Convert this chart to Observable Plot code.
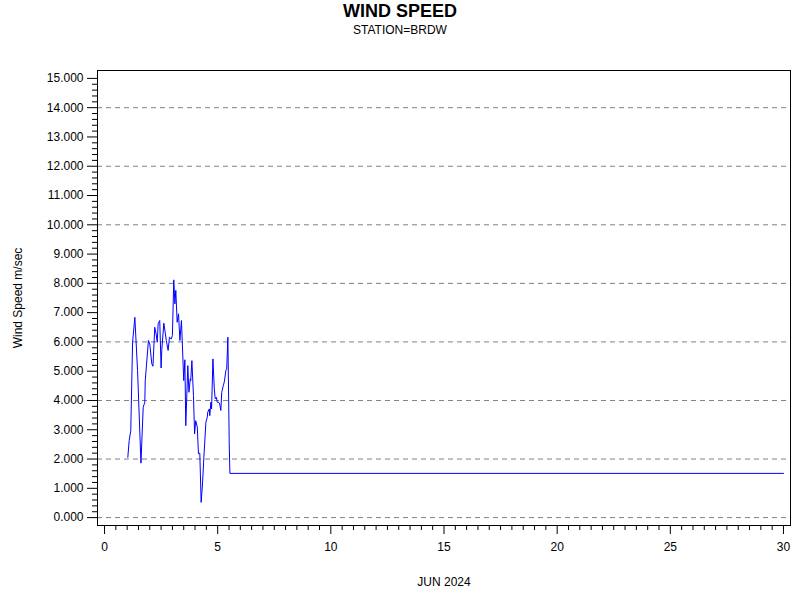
<!DOCTYPE html>
<html><head><meta charset="utf-8">
<script src="https://cdn.jsdelivr.net/npm/d3@7"></script>
<script src="https://cdn.jsdelivr.net/npm/@observablehq/plot@0.6"></script>
<style>
body{margin:0;background:#fff;font-family:"Liberation Sans",Arial,sans-serif;}
#head{height:40px;width:800px;position:relative;}
#t{position:absolute;top:0;width:800px;text-align:center;font-weight:bold;font-size:18px;line-height:22px;}
#s{position:absolute;top:22px;width:800px;text-align:center;font-size:12px;line-height:16px;}
</style></head><body>
<div id="head"><div id="t">WIND SPEED</div><div id="s">STATION=BRDW</div></div>
<div id="chart"></div>
<script>
const days = [1.03,1.09,1.16,1.24,1.34,1.46,1.61,1.71,1.78,1.80,1.94,2.00,2.09,2.14,2.22,2.28,2.33,2.37,2.44,2.50,2.53,2.62,2.68,2.73,2.81,2.87,2.95,3.00,3.06,3.11,3.15,3.21,3.27,3.33,3.40,3.50,3.55,3.59,3.68,3.73,3.79,3.81,3.86,3.93,3.98,4.03,4.10,4.15,4.21,4.27,4.33,4.39,4.48,4.54,4.56,4.63,4.65,4.70,4.73,4.79,4.85,4.89,4.94,4.98,5.04,5.09,5.14,5.18,5.25,5.30,5.36,5.40,5.45,5.51,5.54,30];
const speeds = [2.06,2.63,2.97,5.99,6.84,5.02,1.86,3.77,3.94,4.68,6.05,5.93,5.25,5.17,6.50,6.27,5.99,6.62,6.73,5.11,5.71,6.64,6.33,6.05,5.71,6.16,6.10,6.22,8.12,7.30,7.76,6.67,6.96,6.05,6.73,4.68,5.39,3.14,5.19,4.28,4.74,4.68,5.36,4.17,2.86,3.31,3.09,2.18,2.20,0.52,1.15,2.06,3.26,3.43,3.60,3.71,3.48,3.94,3.71,5.42,4.40,4.06,4.11,3.94,3.94,3.88,3.66,4.28,4.51,4.66,5.02,5.08,6.16,2.52,1.51,1.51];
const xMajor = [0,5,10,15,20,25,30];
const yMajor = d3.range(0,16);
const yGrid = [0,2,4,6,8,10,12,14];
const xLabel = "JUN 2024";
const yLabel = "Wind Speed m/sec";

const data = days.map((d,i)=>({day:d, speed:speeds[i]}));
const xMinor = d3.range(0,30.01,0.5).filter(v=>v%5!==0);
const yMinor = d3.range(0,15.01,0.2).map(v=>+v.toFixed(1)).filter(v=>Math.abs(v-Math.round(v))>1e-6);

const chart = Plot.plot({
  width:800, height:560,
  marginTop:30, marginBottom:75, marginLeft:97, marginRight:10,
  style:{fontFamily:'"Liberation Sans",Arial,sans-serif', fontSize:"12px", color:"#000", background:"#fff"},
  x:{domain:[-0.31,30.31]},
  y:{domain:[-0.27,15.27]},
  marks:[
    Plot.ruleY(yGrid,{stroke:"#808080", strokeDasharray:"5,4", strokeWidth:1}),
    Plot.line(data,{x:"day", y:"speed", stroke:"#0000ff", strokeWidth:1}),
    Plot.frame({stroke:"#000"}),
    Plot.axisY(yMajor,{tickSize:10, tickPadding:4, tickFormat:d=>d.toFixed(3), label:null, stroke:"#000", fill:"#000"}),
    Plot.axisY(yMinor,{tickSize:5, tickFormat:()=>"", label:null, stroke:"#000"}),
    Plot.axisX(xMajor,{tickSize:9, tickPadding:8, tickFormat:d=>String(d), label:null, stroke:"#000", fill:"#000"}),
    Plot.axisX(xMinor,{tickSize:5, tickFormat:()=>"", label:null, stroke:"#000"}),
    Plot.text([yLabel],{frameAnchor:"left", textAnchor:"middle", dx:-79, rotate:-90, fontSize:12, fill:"#000"}),
    Plot.text([xLabel],{frameAnchor:"bottom", dy:60, fontSize:12, fill:"#000"})
  ]
});
document.getElementById("chart").appendChild(chart);
</script>
</body></html>
